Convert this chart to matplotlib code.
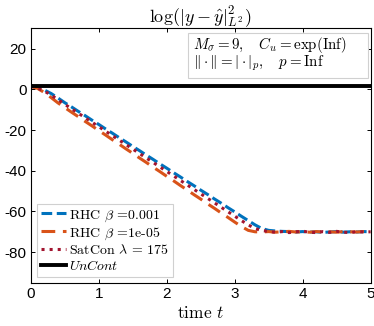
import numpy as np
import matplotlib.pyplot as plt
from matplotlib.patches import Rectangle

plt.rcParams["mathtext.fontset"] = "cm"
plt.rcParams["font.family"] = "Liberation Sans"
plt.rcParams["axes.unicode_minus"] = False

# time grid (step 0.1) and the three controlled trajectories
t = np.round(np.arange(0, 5.01, 0.1), 1)

rhc_1e3 = [1.5, 0.9, -0.3, -2.0, -4.2, -6.5, -8.6, -10.8, -12.9, -15.1, -17.2,
           -19.4, -21.5, -23.7, -25.8, -28.0, -30.1, -32.3, -34.4, -36.6, -38.7,
           -40.9, -43.0, -45.2, -47.3, -49.5, -51.6, -53.8, -55.9, -58.1, -60.2,
           -62.4, -64.5, -66.6, -68.4, -69.3, -69.6, -69.8, -69.9, -70.1, -69.9,
           -70.2, -70.0, -70.3, -70.1, -69.9, -70.2, -70.0, -70.1, -69.9, -70.0]

rhc_1e5 = [1.5, 0.5, -1.5, -4.0, -6.6, -8.9, -11.2, -13.4, -15.7, -17.9, -20.2,
           -22.4, -24.7, -26.9, -29.2, -31.4, -33.7, -35.9, -38.2, -40.4, -42.7,
           -44.9, -47.2, -49.4, -51.7, -53.9, -56.2, -58.4, -60.7, -62.9, -65.2,
           -67.4, -69.3, -70.0, -70.1, -69.9, -70.2, -70.0, -69.8, -70.1, -70.0,
           -70.2, -69.9, -70.1, -70.0, -70.2, -69.9, -70.0, -70.1, -69.9, -70.0]

satcon = [1.5, 0.7, -0.8, -2.8, -5.0, -7.3, -9.5, -11.7, -13.9, -16.1, -18.3,
          -20.5, -22.7, -24.9, -27.1, -29.3, -31.5, -33.7, -35.9, -38.1, -40.3,
          -42.5, -44.7, -46.9, -49.1, -51.3, -53.5, -55.7, -57.9, -60.1, -62.3,
          -64.5, -66.6, -68.4, -69.4, -69.8, -70.3, -69.9, -70.4, -70.0, -69.7,
          -70.2, -70.4, -69.9, -70.3, -69.8, -70.2, -70.4, -69.9, -70.1, -70.0]

uncont = 1.8

fig = plt.figure(figsize=(3.74, 3.26), dpi=100)
ax = fig.add_axes([0.082, 0.133, 0.909, 0.780])

ax.plot(t, rhc_1e3, color="#0072BD", lw=2.2, dashes=(3.5, 1.5),
        label=r"RHC $\beta$ =0.001")
ax.plot(t, rhc_1e5, color="#D95319", lw=2.2, dashes=(4.5, 2.5),
        label=r"RHC $\beta$ =1e-05")
ax.plot(t, satcon, color="#A2142F", lw=2.2, ls=":",
        label=r"SatCon $\lambda$ = 175")
ax.plot([t[0], t[-1]], [uncont, uncont], color="black", lw=2.8,
        label=r"$UnCont$")

ax.set_xlim(0, 5)
ax.set_ylim(-95, 30)
ax.set_xticks(range(0, 6))
ax.set_yticks(range(-80, 21, 20))
ax.tick_params(direction="in", top=True, right=True, length=3, width=0.7,
               labelsize=11, pad=3)
for s in ax.spines.values():
    s.set_linewidth(0.8)

ax.set_title(r"$\log(|y-\hat{y}|^2_{L^2})$", fontsize=13, pad=4)
ax.set_xlabel(r"time $t$", fontfamily="cmr10", fontsize=12.5, labelpad=3)

leg = ax.legend(loc="lower left", bbox_to_anchor=(0.018, 0.022),
                prop={"family": "cmr10", "size": 10}, fancybox=False,
                edgecolor="#d0d0d0", framealpha=1, handlelength=1.8,
                handletextpad=0.2, borderpad=0.3, labelspacing=0.12,
                borderaxespad=0)
leg.get_frame().set_linewidth(0.8)

ax.add_patch(Rectangle((0.463, 0.805), 0.529, 0.176, transform=ax.transAxes,
                       facecolor="white", edgecolor="#d0d0d0", lw=0.8,
                       zorder=5))
ax.text(0.478, 0.934, r"$M_\sigma=9,\quad C_u=\exp(\mathrm{Inf})$",
        transform=ax.transAxes, fontsize=10.8, va="center", zorder=6)
ax.text(0.478, 0.864, r"$\|\cdot\| = |\cdot|_p,\quad p=\mathrm{Inf}$",
        transform=ax.transAxes, fontsize=10.8, va="center", zorder=6)

fig.savefig("out.png", dpi=100)
